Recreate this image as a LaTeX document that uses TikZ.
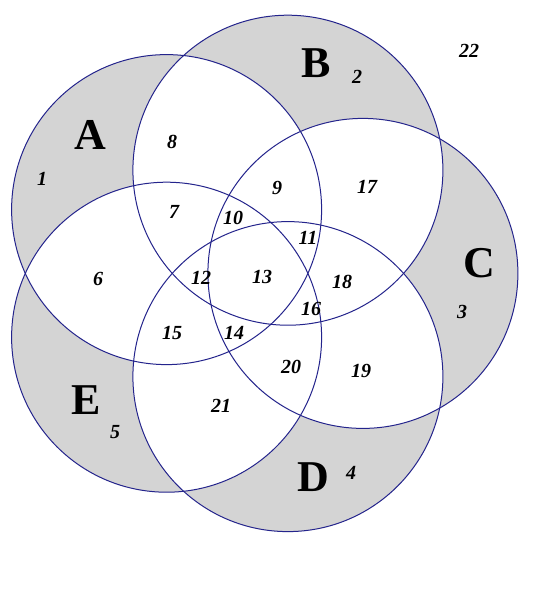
\documentclass[tikz,border=0pt]{standalone}
\usepackage{fontspec}
\setmainfont{Liberation Serif}
\definecolor{venngray}{RGB}{212,212,212}
\definecolor{ringcol}{RGB}{36,36,140}
\tikzset{
  setname/.style={font=\fontsize{44}{44}\selectfont\bfseries, inner sep=0pt},
  regnum/.style={font=\fontsize{20}{20}\selectfont\bfseries\itshape, inner sep=0pt},
  ringline/.style={draw=ringcol, line width=1pt}
}
\begin{document}
\begin{tikzpicture}[x=1pt,y=-1pt]
\useasboundingbox (0,0) rectangle (549,589);
\fill[white] (0,0) rectangle (549,589);
\def\R{155}
\coordinate (cA) at (166.6,209.6);
\coordinate (cB) at (287.9,170.2);
\coordinate (cC) at (362.9,273.4);
\coordinate (cD) at (287.9,376.6);
\coordinate (cE) at (166.6,337.2);
% single-set regions shaded
\foreach \c in {cA,cB,cC,cD,cE} \fill[venngray] (\c) circle[radius=\R];
% overlaps white
\foreach \p/\q in {cA/cB,cA/cC,cA/cD,cA/cE,cB/cC,cB/cD,cB/cE,cC/cD,cC/cE,cD/cE}{
  \begin{scope}
    \clip (\p) circle[radius=\R];
    \fill[white] (\q) circle[radius=\R];
  \end{scope}
}
\foreach \c in {cA,cB,cC,cD,cE} \draw[ringline] (\c) circle[radius=\R];
% set names
\node[setname] (lA) at (90,135) {A};
\node[setname] (lB) at (316,63) {B};
\node[setname] (lC) at (479,263) {C};
\node[setname] (lD) at (313,477) {D};
\node[setname] (lE) at (86,400) {E};
% region numbers
\node[regnum] (n1) at (42,179) {1};
\node[regnum] (n2) at (357,77) {2};
\node[regnum] (n3) at (462,312) {3};
\node[regnum] (n4) at (351,473) {4};
\node[regnum] (n5) at (115,432) {5};
\node[regnum] (n6) at (98,279) {6};
\node[regnum] (n7) at (174,212) {7};
\node[regnum] (n8) at (172,142) {8};
\node[regnum] (n9) at (277,188) {9};
\node[regnum] (n10) at (233,218) {10};
\node[regnum] (n11) at (308,238) {11};
\node[regnum] (n12) at (201,278) {12};
\node[regnum] (n13) at (262,277) {13};
\node[regnum] (n14) at (234,333) {14};
\node[regnum] (n15) at (172,333) {15};
\node[regnum] (n16) at (311,309) {16};
\node[regnum] (n17) at (367,187) {17};
\node[regnum] (n18) at (342,282) {18};
\node[regnum] (n19) at (361,371) {19};
\node[regnum] (n20) at (291,367) {20};
\node[regnum] (n21) at (221,406) {21};
\node[regnum] (n22) at (469,51) {22};
\end{tikzpicture}
\end{document}
